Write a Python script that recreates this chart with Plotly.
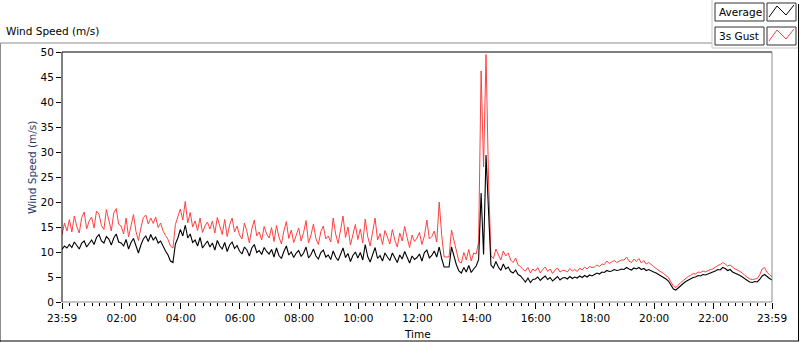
import pandas as pd
import plotly.graph_objects as go

# ---- data (5-minute samples from 23:59 to 23:59 next day) ----
start_time = "2024-01-01 23:59"
step = "5min"

avg_speed = [
    10.5, 11.2, 10.8, 11.5, 10.9, 12.0, 11.3, 10.6, 11.8, 12.2, 11.0, 11.6,
    12.4, 11.5, 12.9, 13.5, 12.2, 11.8, 13.1, 12.6, 11.4, 12.8, 13.6, 12.0,
    11.8, 11.2, 12.5, 10.6, 11.9, 12.7, 11.0, 9.8, 11.4, 12.6, 13.2, 12.1,
    13.5, 12.4, 13.0, 11.8, 12.2, 11.1, 10.2, 9.4, 8.2, 7.9, 11.6, 12.8,
    14.5, 13.2, 15.4, 12.8, 13.6, 11.9, 12.4, 11.2, 12.9, 10.8, 11.5, 12.2,
    11.0, 11.8, 10.4, 12.3, 11.2, 10.6, 11.9, 10.1, 11.4, 12.0, 10.7, 11.3,
    10.2, 9.6, 11.0, 10.4, 9.2, 10.8, 11.5, 9.9, 10.3, 9.5, 10.9, 10.1,
    9.6, 10.5, 9.0, 10.8, 9.3, 8.7, 10.1, 11.2, 9.4, 10.0, 8.9, 9.8,
    10.3, 9.1, 9.8, 11.0, 8.8, 9.5, 10.6, 9.2, 8.6, 9.9, 10.4, 9.0,
    9.4, 8.5, 10.2, 9.0, 8.3, 9.6, 10.8, 8.9, 9.7, 8.1, 9.3, 10.0,
    8.8, 9.9, 8.4, 11.5, 9.1, 8.0, 9.6, 10.9, 8.7, 9.3, 8.2, 9.8,
    9.0, 8.3, 9.8, 8.7, 7.9, 9.4, 8.6, 10.1, 8.8, 7.8, 9.2, 8.5,
    8.9, 9.6, 8.2, 9.9, 10.4, 8.8, 9.3, 10.2, 9.0, 11.0, 8.7, 7.0,
    7.0, 7.0, 11.0, 9.2, 7.4, 6.2, 5.8, 6.9, 6.0, 7.3, 5.9, 6.6,
    7.2, 8.5, 21.8, 9.5, 29.4, 18.4, 7.4, 6.8, 8.1, 7.0, 6.3, 7.6,
    6.6, 7.0, 6.1, 5.8, 6.4, 5.5, 5.2, 4.6, 4.0, 4.8, 3.9, 4.5,
    4.6, 5.0, 4.3, 4.8, 5.2, 4.5, 4.9, 4.2, 4.7, 5.1, 4.4, 4.8,
    4.9, 4.6, 5.1, 4.7, 5.0, 4.8, 5.2, 4.9, 5.3, 5.0, 5.4, 5.2,
    5.5, 5.8, 5.6, 6.0, 5.9, 6.3, 6.1, 6.2, 6.5, 6.3, 6.4, 6.6,
    6.5, 6.9, 6.6, 6.4, 6.8, 6.6, 6.9, 6.5, 6.7, 6.3, 6.5, 6.2,
    6.0, 5.8, 5.5, 5.2, 5.0, 4.6, 4.2, 3.4, 2.6, 2.4, 2.9, 3.3,
    3.7, 4.1, 4.4, 4.6, 4.9, 5.0, 5.3, 5.2, 5.5, 5.4, 5.6, 5.8,
    5.9, 6.2, 6.5, 6.4, 6.9, 6.7, 6.3, 6.5, 6.0, 5.8, 5.6, 5.3,
    5.0, 4.6, 4.3, 4.0, 3.9, 4.1, 4.0, 4.5, 5.2, 5.5, 5.0, 4.7, 4.4,
]

gust_speed = [
    13.5, 15.8, 14.2, 16.5, 14.0, 17.2, 15.1, 13.8, 16.9, 18.0, 14.6, 16.2,
    17.0, 14.8, 18.2, 17.6, 15.3, 14.5, 18.5, 16.4, 14.2, 17.8, 18.7, 15.5,
    15.2, 13.6, 16.8, 13.0, 15.5, 17.5, 14.1, 12.3, 14.8, 16.9, 17.4, 15.6,
    16.8, 15.7, 17.0, 14.9, 15.8, 14.2, 13.3, 12.5, 11.2, 10.8, 15.5, 17.2,
    18.6, 16.4, 20.1, 15.8, 17.9, 15.0, 16.2, 14.3, 16.8, 13.9, 15.2, 16.0,
    14.6, 16.2, 13.8, 16.9, 14.9, 13.5, 16.5, 13.1, 15.4, 16.8, 14.0, 15.2,
    13.4, 12.6, 15.8, 14.1, 11.8, 14.6, 16.4, 13.2, 14.0, 12.4, 15.1, 13.6,
    12.8, 14.9, 12.1, 15.3, 13.0, 11.6, 14.2, 16.1, 12.7, 14.4, 11.9, 13.5,
    14.8, 12.2, 13.9, 16.3, 11.8, 13.4, 15.6, 12.7, 11.5, 14.1, 15.2, 12.6,
    13.2, 12.0, 16.8, 13.6, 11.7, 14.4, 17.2, 12.9, 15.0, 11.4, 13.8, 15.5,
    12.5, 14.6, 11.8, 16.6, 13.1, 11.2, 14.0, 16.8, 12.4, 13.7, 11.5, 14.3,
    13.0, 11.6, 14.5, 12.4, 11.0, 13.8, 12.2, 15.1, 12.9, 10.9, 13.4, 12.1,
    12.8, 13.9, 11.5, 13.2, 16.4, 12.6, 13.1, 14.2, 12.0, 20.0, 13.5, 9.0,
    9.0, 9.0, 14.4, 12.3, 9.6, 8.1, 7.8, 9.9, 8.4, 10.5, 8.2, 9.8,
    9.6, 12.0, 46.2, 27.0, 49.5, 24.8, 9.2, 8.7, 10.6, 9.5, 8.4, 10.2,
    9.2, 9.8, 8.4, 7.9, 8.8, 7.4, 7.1, 6.5, 6.2, 6.9, 5.8, 6.6,
    6.2, 6.9, 5.8, 6.5, 7.0, 6.1, 6.6, 5.7, 6.4, 6.8, 6.0, 6.3,
    6.3, 6.0, 6.7, 6.2, 6.5, 6.1, 6.8, 6.4, 7.0, 6.6, 7.1, 6.9,
    7.0, 7.4, 7.1, 7.6, 7.5, 8.2, 7.7, 8.0, 8.3, 7.9, 8.1, 8.4,
    8.4, 9.0, 8.2, 7.9, 8.6, 8.1, 8.7, 7.8, 8.3, 7.6, 7.9, 7.4,
    7.1, 6.7, 6.3, 6.0, 5.7, 5.3, 4.9, 4.0, 3.2, 2.9, 3.5, 3.9,
    4.3, 4.8, 5.1, 5.3, 5.7, 5.6, 6.0, 5.9, 6.2, 6.0, 6.3, 6.5,
    6.6, 7.0, 7.3, 7.5, 7.9, 7.6, 7.2, 7.4, 6.9, 6.6, 6.4, 6.1,
    5.8, 5.3, 4.9, 4.6, 4.5, 4.6, 4.7, 5.4, 6.6, 6.9, 5.9, 5.5, 5.0,
]

tick_times = ["2024-01-01 23:59", "2024-01-02 02:00", "2024-01-02 04:00",
              "2024-01-02 06:00", "2024-01-02 08:00", "2024-01-02 10:00",
              "2024-01-02 12:00", "2024-01-02 14:00", "2024-01-02 16:00",
              "2024-01-02 18:00", "2024-01-02 20:00", "2024-01-02 22:00",
              "2024-01-02 23:59"]
tick_labels = ["23:59", "02:00", "04:00", "06:00", "08:00", "10:00", "12:00",
               "14:00", "16:00", "18:00", "20:00", "22:00", "23:59"]
y_ticks = [0, 5, 10, 15, 20, 25, 30, 35, 40, 45, 50]

times = pd.date_range(start_time, periods=len(avg_speed), freq=step)

# ---- geometry helpers (pixel -> paper) ----
L, R, T, B = 62, 772, 52, 302
W, H = R - L, B - T


def px(x):
    return (x - L) / W


def py(y):
    return (B - y) / H


FONT = "DejaVu Sans"
RED = "#ff4040"

fig = go.Figure()
fig.add_trace(go.Scatter(x=times, y=gust_speed, mode="lines", name="3s Gust",
                         line=dict(color=RED, width=1), hoverinfo="skip"))
fig.add_trace(go.Scatter(x=times, y=avg_speed, mode="lines", name="Average",
                         line=dict(color="black", width=1.1), hoverinfo="skip"))

shapes = []


def line(x0, y0, x1, y1, color, width=1):
    shapes.append(dict(type="line", xref="paper", yref="paper",
                       x0=px(x0), y0=py(y0), x1=px(x1), y1=py(y1),
                       line=dict(color=color, width=width), layer="above"))


# plot area inset frame
line(L, T, R, T, "black")
line(L, T, L, B, "black")
line(L, B, R, B, "#8c8c8c")
line(R, T, R, B, "#8c8c8c")
# outer panel
line(0.5, 43, 712, 43, "#8c8c8c")
line(0.5, 43, 0.5, 342, "#8c8c8c")
line(0, 341, 799, 341, "black")
line(798.5, 4, 798.5, 341, "black")
line(712, 0, 712, 48, "#c8c8c8")
line(712, 48, 798, 48, "#c8c8c8")


def box(x0, y0, x1, y1):
    shapes.append(dict(type="rect", xref="paper", yref="paper",
                       x0=px(x0), y0=py(y0), x1=px(x1), y1=py(y1),
                       line=dict(color="#303030", width=1),
                       fillcolor="white", layer="above"))


box(715, 3, 764, 21)
box(767, 3, 796, 21)
box(715, 27, 764, 45)
box(767, 27, 796, 45)


def zig(points, color):
    d = "M " + " L ".join(f"{px(x):.5f},{py(y):.5f}" for x, y in points)
    shapes.append(dict(type="path", xref="paper", yref="paper", path=d,
                       line=dict(color=color, width=1), layer="above"))


zig([(769, 17), (777, 6), (786, 15), (794, 5)], "black")
zig([(769, 41), (777, 30), (786, 39), (794, 29)], RED)

annotations = [
    dict(text="Wind Speed (m/s)", xref="paper", yref="paper", x=px(4), y=py(31),
         xanchor="left", yanchor="middle", showarrow=False,
         font=dict(family=FONT, size=10.5, color="black")),
    dict(text="Wind Speed (m/s)", xref="paper", yref="paper", x=px(32), y=py(168),
         xanchor="center", yanchor="middle", showarrow=False, textangle=-90,
         font=dict(family=FONT, size=10.5, color="#1e3a6a")),
    dict(text="Time", xref="paper", yref="paper", x=px(417), y=py(334),
         xanchor="center", yanchor="middle", showarrow=False,
         font=dict(family=FONT, size=10.5, color="black")),
    dict(text="Average", xref="paper", yref="paper", x=px(717), y=py(12),
         xanchor="left", yanchor="middle", showarrow=False,
         font=dict(family=FONT, size=10.5, color="black")),
    dict(text="3s Gust", xref="paper", yref="paper", x=px(717), y=py(36),
         xanchor="left", yanchor="middle", showarrow=False,
         font=dict(family=FONT, size=10.5, color="black")),
]

fig.update_layout(
    width=800, height=342,
    margin=dict(l=L, r=800 - R, t=T, b=342 - B, pad=0),
    paper_bgcolor="white", plot_bgcolor="white",
    showlegend=False,
    font=dict(family=FONT, size=10.5, color="black"),
    shapes=shapes, annotations=annotations,
    xaxis=dict(
        type="date", range=[tick_times[0], tick_times[-1]],
        tickmode="array", tickvals=tick_times, ticktext=tick_labels,
        ticks="outside", ticklen=6, tickcolor="black", tickwidth=1,
        showgrid=False, zeroline=False, showline=False,
        tickfont=dict(family=FONT, size=10.5, color="black"),
        minor=dict(tickmode="linear", tick0="2024-01-02 00:00", dtick=15 * 60 * 1000,
                   ticks="outside", ticklen=3, tickcolor="black", tickwidth=1,
                   showgrid=False),
    ),
    yaxis=dict(
        range=[0, 50], tickmode="array", tickvals=y_ticks,
        ticks="outside", ticklen=5, tickcolor="black", tickwidth=1,
        showgrid=False, zeroline=False, showline=False,
        tickfont=dict(family=FONT, size=10.5, color="black"),
    ),
)

fig.write_html("out.html",
               config={"displayModeBar": False, "staticPlot": True},
               post_script="document.body.style.margin='0';"
                           "document.body.style.overflow='hidden';")
